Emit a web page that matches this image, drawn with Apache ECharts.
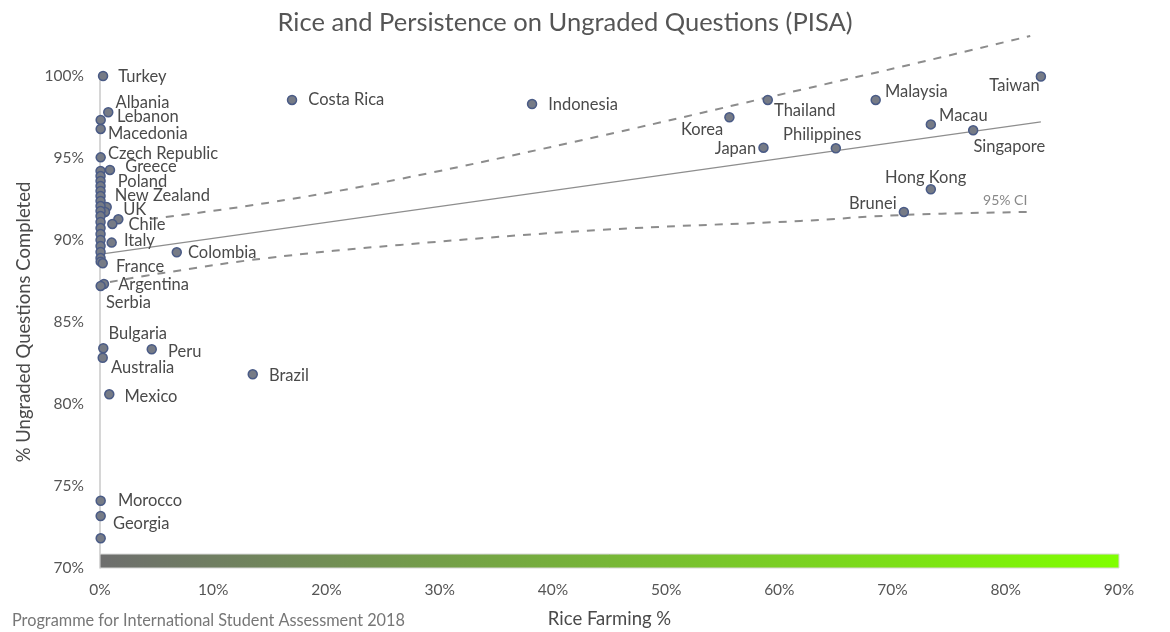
<!DOCTYPE html>
<html>
<head>
<meta charset="utf-8">
<script src="https://cdn.jsdelivr.net/npm/echarts@6/dist/echarts.min.js"></script>
<style>
  html, body { margin: 0; padding: 0; background: #fff; }
  #chart { width: 1170px; height: 632px; }
</style>
</head>
<body>
<div id="chart"></div>
<script>
// PISA 2018: share of ungraded questions completed vs. share of rice farming
const countries = [
  'Turkey', 'Albania', 'Lebanon', 'Macedonia', 'Czech Republic', 'Greece',
  '', '', 'Poland', '', '', 'New Zealand', '', '', '', 'UK', '', '', '', 'Chile',
  '', '', '', '', 'Italy', '', '', '', 'France', '', 'Argentina', 'Serbia',
  'Bulgaria', 'Australia', 'Peru', 'Mexico', 'Brazil', 'Colombia',
  'Morocco', 'Georgia', '',
  'Costa Rica', 'Indonesia', 'Korea', 'Thailand', 'Japan', 'Philippines',
  'Malaysia', 'Taiwan', 'Macau', 'Singapore', 'Hong Kong', 'Brunei'
];
const riceFarming = [
  0.27, 0.73, 0.06, 0.06, 0.06, 0.88,
  0.05, 0.05, 0.05, 0.05, 0.05, 0.05, 0.05, 0.59, 0.05, 0.44, 0.05, 0.05, 1.62, 1.09,
  0.05, 0.05, 0.05, 0.05, 1.03, 0.05, 0.05, 0.05, 0.06, 0.24, 0.35, 0.06,
  0.29, 0.24, 4.57, 0.82, 13.49, 6.78,
  0.06, 0.06, 0.06,
  16.96, 38.16, 55.59, 58.98, 58.60, 64.99,
  68.51, 83.10, 73.38, 77.12, 73.38, 71.00
];
const completed = [
  100.0, 97.79, 97.32, 96.77, 95.04, 94.27,
  94.21, 93.90, 93.60, 93.29, 92.99, 92.68, 92.38, 92.01, 92.07, 91.71, 91.77, 91.46, 91.26, 90.98,
  91.10, 90.73, 90.37, 90.00, 89.84, 89.63, 89.27, 88.90, 88.68, 88.58, 87.32, 87.20,
  83.40, 82.82, 83.34, 80.59, 81.81, 89.25,
  74.10, 73.17, 71.81,
  98.54, 98.29, 97.48, 98.54, 95.63, 95.59,
  98.54, 99.97, 97.05, 96.69, 93.09, 91.71
];

// Fitted line and its 95% confidence band
const trendX = [0.4, 83.1];
const trendY = [89.17, 97.20];
const ciUpperX = [4.42, 14.75, 26.5, 44.17, 61.84, 70.67, 82.16];
const ciUpperY = [91.28, 92.26, 93.72, 96.34, 99.15, 100.55, 102.44];
const ciLowerX = [0.88, 5.57, 14.75, 26.5, 44.17, 61.84, 70.67, 81.98];
const ciLowerY = [87.44, 87.99, 88.90, 89.70, 90.61, 91.16, 91.52, 91.71];

// Axis ticks
const xTicks = [0, 10, 20, 30, 40, 50, 60, 70, 80, 90];
const yTicks = [70, 75, 80, 85, 90, 95, 100];

// Label placement: [anchor side, dx, dy]
const labelPlacement = {
  'Turkey': ['right', 5, 1], 'Albania': ['right', -3, -10], 'Lebanon': ['right', 6, -3],
  'Macedonia': ['right', -3, 5], 'Czech Republic': ['right', -3, -4], 'Greece': ['right', 5, -3],
  'Poland': ['right', 7, 1], 'New Zealand': ['right', 4, 0], 'UK': ['right', 8, -2],
  'Chile': ['right', 6, 1], 'Italy': ['right', 2, -2], 'Colombia': ['right', 1, 0],
  'France': ['right', 5, 5], 'Argentina': ['right', 4, 1], 'Serbia': ['right', -5, 17],
  'Bulgaria': ['right', -5, -15], 'Peru': ['right', 6, 2], 'Australia': ['right', -2, 10],
  'Brazil': ['right', 6, 1], 'Mexico': ['right', 5, 2], 'Morocco': ['right', 7, 0],
  'Georgia': ['right', 2, 8], 'Costa Rica': ['right', 6, 0], 'Indonesia': ['right', 6, 1],
  'Korea': ['left', 4, 12], 'Thailand': ['right', -4, 11], 'Japan': ['left', 3, 1],
  'Philippines': ['right', -63, -14], 'Malaysia': ['right', -1, -8], 'Taiwan': ['left', 9, 9],
  'Macau': ['right', -2, -9], 'Singapore': ['right', -10, 16], 'Hong Kong': ['right', -56, -12],
  'Brunei': ['left', 3, -8]
};

const FONT = 'Lato, "Noto Sans", sans-serif';
const TEXT = '#4a4a4a';

const points = countries.map((name, i) => {
  const item = { name: name, value: [riceFarming[i], completed[i]] };
  const p = labelPlacement[name];
  if (name && p) {
    item.label = { show: true, position: p[0], offset: [p[1], p[2]] };
  }
  return item;
});

const chart = echarts.init(document.getElementById('chart'));
chart.setOption({
  animation: false,
  backgroundColor: '#fff',
  textStyle: { fontFamily: FONT },
  title: [
    {
      text: 'Rice and Persistence on Ungraded Questions (PISA)',
      left: 560, top: 5, textAlign: 'center',
      textStyle: { fontFamily: FONT, fontSize: 25.5, fontWeight: 'normal', color: '#555' }
    },
    {
      text: 'Programme for International Student Assessment 2018',
      left: 7, top: 608,
      textStyle: { fontFamily: FONT, fontSize: 16.3, fontWeight: 'normal', color: '#777' }
    }
  ],
  grid: { left: 100, right: 51, top: 76, bottom: 64, outerBoundsMode: 'none', containLabel: false },
  xAxis: {
    type: 'value', min: xTicks[0], max: xTicks[xTicks.length - 1], interval: 10,
    name: 'Rice Farming %', nameLocation: 'middle', nameGap: 42,
    nameTextStyle: { fontFamily: FONT, fontSize: 18.5, color: TEXT },
    axisLine: { show: false }, axisTick: { show: false }, splitLine: { show: false },
    axisLabel: { formatter: '{value}%', fontFamily: FONT, fontSize: 15.5, color: '#555', margin: 14 }
  },
  yAxis: {
    type: 'value', min: yTicks[0], max: yTicks[yTicks.length - 1], interval: 5,
    name: '% Ungraded Questions Completed', nameLocation: 'middle', nameGap: 63,
    nameTextStyle: { fontFamily: FONT, fontSize: 18.5, color: TEXT },
    axisLine: { show: true, lineStyle: { color: '#c8c8c8', width: 1.5 } },
    axisTick: { show: false }, splitLine: { show: false },
    axisLabel: { formatter: '{value}%', fontFamily: FONT, fontSize: 15.5, color: '#555', margin: 16 }
  },
  series: [
    {
      type: 'line', name: 'CI upper', clip: false, silent: true,
      data: ciUpperX.map((x, i) => [x, ciUpperY[i]]),
      smooth: 0.4, symbol: 'none',
      lineStyle: { color: '#8c8c8c', width: 2, type: [8, 8] }, z: 2
    },
    {
      type: 'line', name: 'CI lower', clip: false, silent: true,
      data: ciLowerX.map((x, i) => [x, ciLowerY[i]]),
      smooth: 0.4, symbol: 'none',
      lineStyle: { color: '#8c8c8c', width: 2, type: [8, 8] }, z: 2,
      markPoint: {
        symbol: 'circle', symbolSize: 0, silent: true,
        data: [{ coord: [ciLowerX[ciLowerX.length - 1], ciLowerY[ciLowerY.length - 1]] }],
        label: {
          show: true, formatter: '95% CI', position: 'top', offset: [-23, 1],
          fontFamily: FONT, fontSize: 14, color: '#888'
        }
      }
    },
    {
      type: 'line', name: 'Trend', silent: true,
      data: trendX.map((x, i) => [x, trendY[i]]),
      symbol: 'none', lineStyle: { color: '#8e8e8e', width: 1.2 }, z: 2
    },
    {
      type: 'scatter', name: 'Countries',
      data: points,
      symbol: 'circle', symbolSize: 9,
      itemStyle: { color: '#767b86', borderColor: '#4a5b86', borderWidth: 1.5, opacity: 1 },
      label: {
        show: false, formatter: '{b}', fontFamily: FONT, fontSize: 16.5, color: TEXT
      },
      z: 5,
      markArea: {
        silent: true,
        itemStyle: {
          color: new echarts.graphic.LinearGradient(0, 0, 1, 0, [
            { offset: 0, color: '#6e6e6e' },
            { offset: 1, color: '#80ff00' }
          ]),
          borderColor: '#d8d8d8', borderWidth: 1
        },
        data: [[{ coord: [xTicks[0], yTicks[0]] }, { coord: [xTicks[xTicks.length - 1], 70.85] }]]
      }
    }
  ]
});
</script>
</body>
</html>
